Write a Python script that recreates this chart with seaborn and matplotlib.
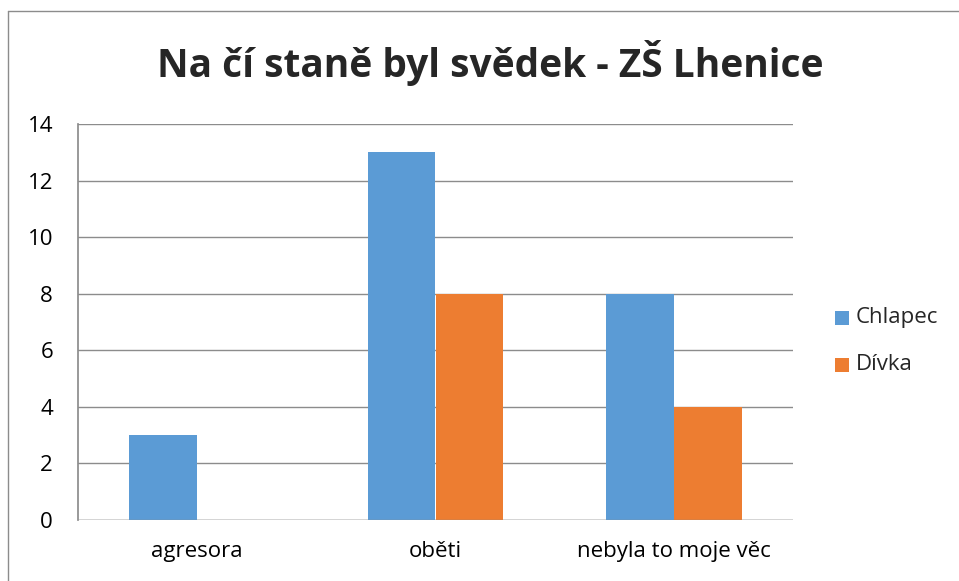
import numpy as np
import pandas as pd
import matplotlib
matplotlib.use('Agg')
import matplotlib.pyplot as plt
import seaborn as sns
from matplotlib.patches import Rectangle

# ================= Data =================
CATEGORIES = ['agresora', 'oběti', 'nebyla to moje věc']
SERIES = ['Chlapec', 'Dívka']
CHLAPEC = [3, 13, 8]
DIVKA = [0, 8, 4]
YTICKS = [0, 2, 4, 6, 8, 10, 12, 14]
TITLE = 'Na čí staně byl svědek - ZŠ Lhenice'

COLORS = ['#5B9BD5', '#ED7D31']
GRID = '#8C8C8C'

df = pd.DataFrame({
    'kategorie': CATEGORIES * 2,
    'pohlavi': [SERIES[0]] * 3 + [SERIES[1]] * 3,
    'pocet': CHLAPEC + DIVKA,
})

sns.set_theme(style='white')
plt.rcParams['font.family'] = ['Open Sans', 'DejaVu Sans']

fig = plt.figure(figsize=(9.59, 5.81), dpi=100)
ax = fig.add_axes([78 / 959, 1 - 520 / 581, (793 - 78) / 959, (520 - 124) / 581])

sns.barplot(data=df, x='kategorie', y='pocet', hue='pohlavi', order=CATEGORIES,
            hue_order=SERIES, palette=COLORS, width=0.57, ax=ax, saturation=1,
            legend=False, linewidth=0)

ax.set_ylim(0, 14)
ax.set_yticks(YTICKS)
ax.set_xlim(-0.5, 2.5)
ax.yaxis.grid(True, color=GRID, linewidth=1)
ax.set_axisbelow(True)
for s in ['top', 'right', 'bottom']:
    ax.spines[s].set_visible(False)
ax.spines['left'].set_color(GRID)
ax.axhline(0, color=GRID, linewidth=1, zorder=3)
ax.set_xlabel('')
ax.set_ylabel('')
ax.tick_params(axis='both', length=0, labelsize=16, colors='#000000')
ax.tick_params(axis='y', pad=18)
ax.tick_params(axis='x', pad=15)

fig.text(490 / 959, 1 - 63 / 581, TITLE, ha='center', va='center',
         fontsize=28, fontweight='bold')

# legend
for i, (name, col) in enumerate(zip(SERIES, COLORS)):
    y = 1 - (318 + i * 47) / 581
    fig.patches.append(Rectangle((835 / 959, y - 7 / 581), 14 / 959, 14 / 581,
                                 transform=fig.transFigure, facecolor=col,
                                 edgecolor='none'))
    fig.text(856 / 959, y, name, ha='left', va='center', fontsize=16)

# chart border (top and left only, rest cut off)
fig.add_artist(plt.Line2D([8 / 959, 1], [1 - 11 / 581, 1 - 11 / 581],
                          transform=fig.transFigure, color=GRID, linewidth=1))
fig.add_artist(plt.Line2D([8 / 959, 8 / 959], [0, 1 - 11 / 581],
                          transform=fig.transFigure, color=GRID, linewidth=1))

fig.savefig('out.png', dpi=100)
